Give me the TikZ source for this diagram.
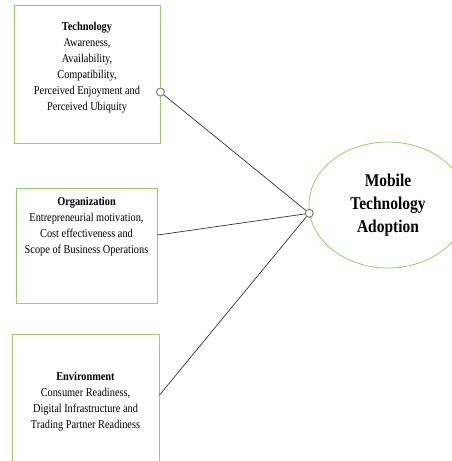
\documentclass[tikz,border=0pt]{standalone}
\usepackage{fontspec}
\setmainfont[FakeStretch=0.86]{Liberation Serif}
\usepackage{xcolor}
\usepackage{tikz}
\usetikzlibrary{calc,shapes.geometric}

\definecolor{boxgreen}{RGB}{155,205,105}
\definecolor{dotgray}{RGB}{125,125,125}

\begin{document}
\begin{tikzpicture}[x=1pt, y=-1pt,
        factor/.style={rectangle, draw=boxgreen, line width=0.8pt, inner sep=0pt},
        factortext/.style={anchor=north, align=center, inner sep=0pt,
            font=\fontsize{12}{16}\selectfont},
        outcome/.style={ellipse, draw=boxgreen, line width=0.8pt, inner sep=0pt,
            minimum width=158pt, minimum height=126pt, align=center,
            font=\fontsize{18}{23}\selectfont\bfseries},
        joint/.style={circle, draw=dotgray, fill=white, line width=1pt,
            inner sep=0pt, minimum size=8pt},
        link/.style={draw=black!80, line width=0.7pt}]

    \useasboundingbox (0,0) rectangle (452,461);
    \clip (0,0) rectangle (452,461);

    \node[factor, minimum width=146pt, minimum height=138pt] (tech) at (87,74) {};
    \node[factor, minimum width=141pt, minimum height=115pt] (org) at (86.5,245.5) {};
    \node[factor, minimum width=147pt, minimum height=136pt] (env) at (85.5,402) {};

    \node[factortext] (techtxt) at (87,22) {\textbf{Technology}\\ Awareness,\\ Availability,\\
        Compatibility,\\ Perceived Enjoyment and\\ Perceived Ubiquity};
    \node[factortext] (orgtxt) at (86.5,197) {\textbf{Organization}\\ Entrepreneurial motivation,\\
        Cost effectiveness and\\ Scope of Business Operations};
    \node[factortext] (envtxt) at (85.5,372) {\textbf{Environment}\\ Consumer Readiness,\\
        Digital Infrastructure and\\ Trading Partner Readiness};

    \node[outcome] (adopt) at (388,205) {Mobile\\ Technology\\ Adoption};

    \node[joint] (techjoint) at ($(tech.north east)!0.63!(tech.south east)$) {};
    \node[joint] (adoptjoint) at (adopt.186) {};
    \coordinate (orgout) at ($(org.north east)!0.41!(org.south east)$);
    \coordinate (envout) at ($(env.north east)!0.45!(env.south east)$);

    \draw[link] (techjoint) -- (adoptjoint);
    \draw[link] (orgout) -- (adoptjoint);
    \draw[link] (envout) -- (adoptjoint);

\end{tikzpicture}
\end{document}
